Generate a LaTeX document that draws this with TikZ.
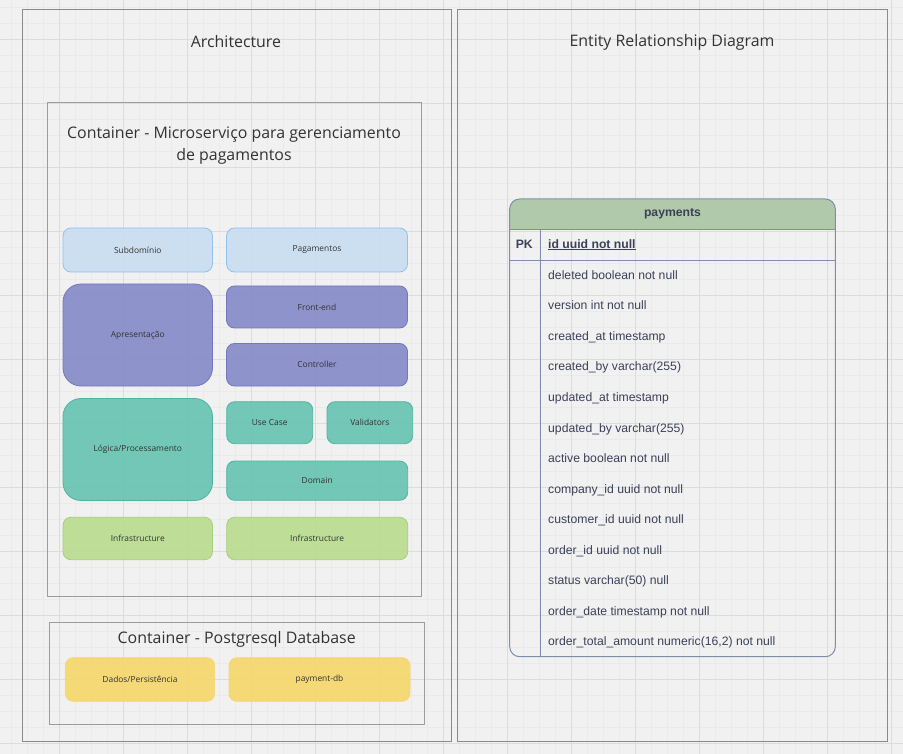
\documentclass[tikz,border=0pt]{standalone}
\usepackage{fontspec}
\setmainfont{Open Sans}
\newfontfamily\erdfont{Liberation Sans}
\definecolor{bg}{HTML}{F1F1F1}
\definecolor{gmin}{HTML}{EAEAEA}
\definecolor{gmaj}{HTML}{DCDCDC}
\definecolor{frame}{HTML}{8A8A8A}
\definecolor{cframe}{HTML}{9C9C9C}
\definecolor{txt}{HTML}{333333}
\definecolor{blueF}{HTML}{C9DEF1}
\definecolor{blueD}{HTML}{8FC2EC}
\definecolor{purF}{HTML}{8489C9}
\definecolor{purD}{HTML}{7378BA}
\definecolor{tealF}{HTML}{66C3B1}
\definecolor{tealD}{HTML}{4FB49F}
\definecolor{grnF}{HTML}{B9DD8F}
\definecolor{grnD}{HTML}{A3CF7C}
\definecolor{yelF}{HTML}{F6D76A}
\definecolor{hdrF}{HTML}{B1C9AB}
\definecolor{erdD}{HTML}{7F8DAC}
\definecolor{erdT}{HTML}{3C4058}
\tikzset{
  box/.style={draw, line width=0.8pt, fill opacity=0.9, text opacity=1, text=txt,
    font=\fontsize{8.4}{10}\selectfont, inner sep=0pt, align=center},
  bluebox/.style={box, fill=blueF, draw=blueD, rounded corners=8pt},
  purbox/.style={box, fill=purF, draw=purD, rounded corners=8pt},
  tealbox/.style={box, fill=tealF, draw=tealD, rounded corners=8pt},
  grnbox/.style={box, fill=grnF, draw=grnD, rounded corners=8pt},
  yelbox/.style={box, fill=yelF, draw=yelF, rounded corners=8pt},
  bigr/.style={rounded corners=18pt},
  ttl/.style={text=txt, inner sep=0pt, align=center},
  erdrow/.style={anchor=west, inner sep=0pt, text=erdT, font=\erdfont\fontsize{12.2}{14}\selectfont},
}
\begin{document}
\begin{tikzpicture}[x=1pt,y=-1pt]
\useasboundingbox (0,0) rectangle (903,754);
\fill[bg] (0,0) rectangle (903,754);
% grid
\foreach \i in {0,...,56} { \draw[gmin, line width=0.6pt] (11+16*\i,0) -- (11+16*\i,754); }
\foreach \i in {0,...,47} { \draw[gmin, line width=0.6pt] (0,7+16*\i) -- (903,7+16*\i); }
\foreach \i in {0,...,13} { \draw[gmaj, line width=0.9pt] (59+64*\i,0) -- (59+64*\i,754); }
\foreach \i in {0,...,11} { \draw[gmaj, line width=0.9pt] (0,39+64*\i) -- (903,39+64*\i); }

% outer frames
\node[draw=frame, line width=1.3pt, minimum width=429.2pt, minimum height=732.2pt, inner sep=0pt] (arch) at (236.9,375.4) {};
\node[draw=frame, line width=1.3pt, minimum width=430pt, minimum height=732.2pt, inner sep=0pt] (erd) at (672.3,375.4) {};
\node[ttl, font=\fontsize{15.9}{18}\selectfont] (archT) at (236,42) {Architecture};
\node[ttl, font=\fontsize{15.9}{18}\selectfont] (erdT) at (672,42) {Entity Relationship Diagram};

% containers
\node[draw=cframe, line width=1pt, minimum width=374.2pt, minimum height=493pt, inner sep=0pt] (ms) at (234.4,349.5) {};
\node[ttl, font=\fontsize{15.9}{22}\selectfont] (msT) at (234,145.5) {Container - Microserviço para gerenciamento\\de pagamentos};
\node[draw=cframe, line width=1pt, minimum width=375pt, minimum height=102pt, inner sep=0pt] (db) at (236.8,673.7) {};
\node[ttl, font=\fontsize{15.9}{18}\selectfont] (dbT) at (236.7,639) {Container - Postgresql Database};

% layer boxes
\node[bluebox, minimum width=149.5pt, minimum height=44pt] (sub) at (137.75,250) {Subdomínio};
\node[bluebox, minimum width=181pt, minimum height=44pt] (pag) at (317,250) {Pagamentos};
\node[purbox, bigr, minimum width=149.5pt, minimum height=102pt] (apr) at (137.75,335) {Apresentação};
\node[purbox, minimum width=181pt, minimum height=42pt] (front) at (317,307) {Front-end};
\node[purbox, minimum width=181pt, minimum height=42.5pt] (ctrl) at (317,364.75) {Controller};
\node[tealbox, bigr, minimum width=149.5pt, minimum height=102pt] (log) at (137.75,449.5) {Lógica/Processamento};
\node[tealbox, minimum width=86pt, minimum height=42pt] (uc) at (269.7,422.7) {Use Case};
\node[tealbox, minimum width=85.7pt, minimum height=42pt] (val) at (369.85,422.7) {Validators};
\node[tealbox, minimum width=181pt, minimum height=39.3pt] (dom) at (317.2,480.65) {Domain};
\node[grnbox, minimum width=149.5pt, minimum height=42.4pt] (inf1) at (137.75,538.5) {Infrastructure};
\node[grnbox, minimum width=181pt, minimum height=42.4pt] (inf2) at (317.2,538.5) {Infrastructure};
\node[yelbox, minimum width=149.4pt, minimum height=43.6pt] (dados) at (140,679.5) {Dados/Persistência};
\node[yelbox, minimum width=181pt, minimum height=43.6pt] (pdb) at (319.5,679.5) {payment-db};

% ERD table
\begin{scope}
  \clip[rounded corners=10pt] (509.7,199) rectangle (835.3,656.7);
  \fill[hdrF] (509.7,199) rectangle (835.3,229.3);
\end{scope}
\node[draw=erdD, line width=1pt, rounded corners=10pt, minimum width=325.6pt, minimum height=457.7pt, inner sep=0pt] (tbl) at (672.5,427.85) {};
\coordinate (hl) at (509.7,229.3); \coordinate (hr) at (835.3,229.3);
\coordinate (pl) at (509.7,260.3); \coordinate (pr) at (835.3,260.3);
\coordinate (vt) at (540.3,229.3); \coordinate (vb) at (540.3,656.7);
\draw[erdD, line width=1pt] (hl) -- (hr);
\draw[erdD, line width=1pt] (pl) -- (pr);
\draw[erdD, line width=1pt] (vt) -- (vb);
\node[erdrow, anchor=center, font=\erdfont\bfseries\fontsize{12.2}{14}\selectfont] (hdr) at (672.5,214) {payments};
\node[erdrow, anchor=center, font=\erdfont\bfseries\fontsize{12.2}{14}\selectfont] (pk) at (524.3,244.8) {PK};
\node[erdrow, font=\erdfont\bfseries\fontsize{12.2}{14}\selectfont] (r0) at (548,244.8) {\underline{id uuid not null}};
\foreach \t [count=\k from 0] in {deleted boolean not null, version int not null, created\_at timestamp, created\_by varchar(255), updated\_at timestamp, updated\_by varchar(255), active boolean not null, company\_id uuid not null, customer\_id uuid not null, order\_id uuid not null, status varchar(50) null, order\_date timestamp not null, {order\_total\_amount numeric(16,2) not null}} {
  \node[erdrow, text depth=0pt, text height=8.8pt] (r\k) at (548,275+30.53*\k) {\t};
}
\end{tikzpicture}
\end{document}
